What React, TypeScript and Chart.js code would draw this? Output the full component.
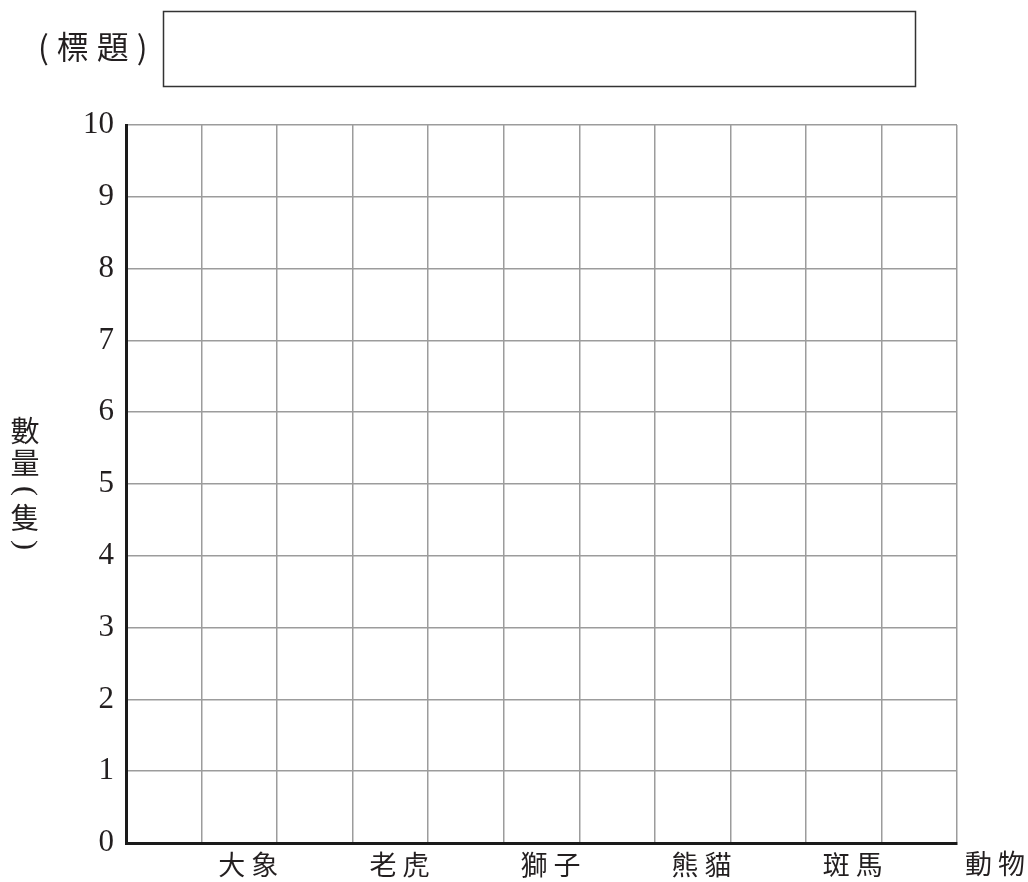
import React, { useEffect, useRef } from "react";
import { Chart, registerables } from "chart.js";

Chart.register(...registerables);

// Data
const categories: string[] = ["", "大 象", "", "老 虎", "", "獅 子", "", "熊 貓", "", "斑 馬", ""];
const seriesValues: (number | null)[] = [null, null, null, null, null, null, null, null, null, null, null];
const yTicks: number[] = [0, 1, 2, 3, 4, 5, 6, 7, 8, 9, 10];
const titleText = "(標題)";
const yTitleChars: string[] = ["數", "量", "(", "隻", ")"];
const xTitleText = "動物";

const CJK = '"Noto Sans CJK TC", "Noto Sans CJK SC", sans-serif';
const SERIF = '"Liberation Serif", "DejaVu Serif", serif';
const TEXT = "#231f20";
const GRID = "#9c9c9c";

const extrasPlugin = {
  id: "extras",
  afterDraw(chart: any) {
    const ctx = chart.ctx as CanvasRenderingContext2D;
    const area = chart.chartArea;
    ctx.save();
    // title box
    ctx.strokeStyle = "#333333";
    ctx.lineWidth = 1.5;
    ctx.strokeRect(163.5, 11.5, 752, 75);
    // title text
    ctx.fillStyle = TEXT;
    ctx.font = `32px ${CJK}`;
    ctx.textBaseline = "middle";
    ctx.textAlign = "left";
    try { (ctx as any).letterSpacing = "8px"; } catch (e) {}
    ctx.fillText(titleText, 38, 47);
    try { (ctx as any).letterSpacing = "0px"; } catch (e) {}
    // y title vertical
    ctx.textAlign = "center";
    const ys = [431, 463, 491, 518, 545];
    yTitleChars.forEach((c, i) => {
      if (c === "(" || c === ")") {
        ctx.save();
        ctx.font = `30px ${SERIF}`;
        ctx.translate(25, ys[i]);
        ctx.rotate(Math.PI / 2);
        ctx.fillText(c, 0, 0);
        ctx.restore();
      } else {
        ctx.font = `29px ${CJK}`;
        ctx.fillText(c, 25, ys[i]);
      }
    });
    // x title
    ctx.font = `27px ${CJK}`;
    try { (ctx as any).letterSpacing = "6px"; } catch (e) {}
    ctx.textAlign = "center";
    ctx.fillText(xTitleText, 998, area.bottom + 21);
    ctx.restore();
  },
};

export default function App() {
  const ref = useRef<HTMLCanvasElement | null>(null);
  useEffect(() => {
    if (!ref.current) return;
    const chart = new Chart(ref.current, {
      type: "bar",
      data: {
        labels: categories,
        datasets: [
          {
            label: "數量",
            data: seriesValues as any,
            backgroundColor: "#888888",
          },
        ],
      },
      options: {
        animation: false,
        responsive: true,
        maintainAspectRatio: false,
        layout: { padding: { top: 125, right: 71, left: 0, bottom: 0 } },
        plugins: {
          legend: { display: false },
          tooltip: { enabled: false },
          title: { display: false },
        },
        scales: {
          x: {
            type: "category",
            offset: true,
            grid: { offset: true, color: GRID, lineWidth: 1.5, drawTicks: false },
            border: { display: true, color: "#1a1a1a", width: 3 },
            ticks: {
              autoSkip: false,
              maxRotation: 0,
              minRotation: 0,
              padding: 6,
              labelOffset: 9,
              color: TEXT,
              font: { family: CJK, size: 27 },
            },
            afterFit(scale: any) {
              scale.height = 39;
            },
          },
          y: {
            min: 0,
            max: 10,
            afterBuildTicks(scale: any) {
              scale.ticks = yTicks.map((v) => ({ value: v }));
            },
            grid: { color: GRID, lineWidth: 1.5, drawTicks: false },
            border: { display: true, color: "#1a1a1a", width: 3 },
            ticks: {
              padding: 12,
              color: TEXT,
              font: { family: SERIF, size: 31 },
            },
            afterFit(scale: any) {
              scale.width = 126;
            },
          },
        },
      },
      plugins: [extrasPlugin],
    });
    return () => chart.destroy();
  }, []);
  return (
    <div style={{ position: "fixed", left: 0, top: 0, width: 1028, height: 882, background: "#ffffff" }}>
      <canvas ref={ref} />
    </div>
  );
}
